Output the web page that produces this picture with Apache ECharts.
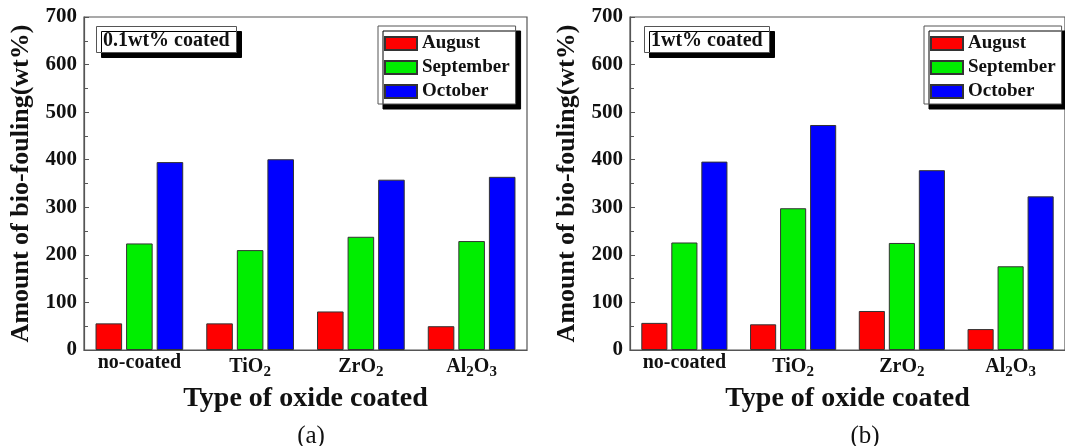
<!DOCTYPE html>
<html>
<head>
<meta charset="utf-8">
<script src="https://cdn.jsdelivr.net/npm/echarts@6/dist/echarts.min.js"></script>
<style>
  html, body { margin: 0; padding: 0; background: #fff; }
  #chart { width: 1065px; height: 446px; }
</style>
</head>
<body>
<div id="chart"></div>
<script>
// 数据
const categories = ['no-coated', 'TiO2', 'ZrO2', 'Al2O3']
const months = ['August', 'September', 'October']
const yTicks = [0, 100, 200, 300, 400, 500, 600, 700]

// (a) 0.1wt% coated
const augustA = [56, 56, 81, 50]
const septemberA = [224, 210, 238, 229]
const octoberA = [395, 401, 358, 364]

// (b) 1wt% coated
const augustB = [57, 54, 82, 44]
const septemberB = [226, 298, 225, 176]
const octoberB = [396, 473, 378, 323]

const colors = ['#ff0000', '#00ee00', '#0000ff']
const serif = '"Liberation Serif", "DejaVu Serif", serif'

const chart = echarts.init(document.getElementById('chart'))

// 下标显示 TiO2 -> TiO₂
function subLabel (v) {
  return v.replace(/(\d)/g, '{s|$1}')
}

function xAxisOf (idx) {
  return {
    type: 'category',
    gridIndex: idx,
    data: categories,
    axisTick: { show: false },
    axisLine: { lineStyle: { color: '#555', width: 1.2 } },
    axisLabel: {
      interval: 0,
      formatter: subLabel,
      color: '#111',
      fontFamily: serif,
      fontWeight: 'bold',
      fontSize: 20,
      margin: 3,
      rich: {
        s: {
          fontFamily: serif,
          fontWeight: 'bold',
          fontSize: 15,
          color: '#111',
          verticalAlign: 'bottom',
          padding: [12, 0, 0, 0]
        }
      }
    },
    name: 'Type of oxide coated',
    nameLocation: 'middle',
    nameGap: 27,
    nameTextStyle: { fontFamily: serif, fontWeight: 'bold', fontSize: 28, color: '#111' }
  }
}

function yAxisOf (idx) {
  return {
    type: 'value',
    gridIndex: idx,
    min: yTicks[0],
    max: yTicks[yTicks.length - 1],
    interval: 100,
    splitLine: { show: false },
    axisLine: { show: true, lineStyle: { color: '#555', width: 1.2 } },
    axisTick: { show: true, inside: true, length: 5, lineStyle: { color: '#555' } },
    minorTick: { show: true, splitNumber: 2, length: 4, lineStyle: { color: '#555' } },
    axisLabel: { color: '#111', fontFamily: serif, fontWeight: 'bold', fontSize: 21, margin: 7 },
    name: 'Amount of bio-fouling(wt%)',
    nameLocation: 'middle',
    nameGap: 50,
    nameTextStyle: { fontFamily: serif, fontWeight: 'bold', fontSize: 26, color: '#111' }
  }
}

function barSeries (name, data, idx, color) {
  return {
    name: name,
    type: 'bar',
    xAxisIndex: idx,
    yAxisIndex: idx,
    data: data,
    barWidth: '24%',
    barGap: '15%',
    itemStyle: { color: color, borderColor: '#333', borderWidth: 1 }
  }
}

function legendOf (left) {
  return {
    orient: 'vertical',
    left: left,
    top: 26,
    data: months,
    icon: 'rect',
    itemWidth: 32,
    itemHeight: 13,
    itemGap: 5,
    padding: [8, 6, 3, 6],
    backgroundColor: '#fff',
    borderColor: '#555',
    borderWidth: 1,
    shadowColor: '#000',
    shadowBlur: 0,
    shadowOffsetX: 5,
    shadowOffsetY: 5,
    textStyle: { fontFamily: serif, fontWeight: 'bold', fontSize: 19, color: '#111' }
  }
}

function boxTitle (text, left) {
  return {
    text: text,
    left: left,
    top: 26,
    padding: [4, 7, 2, 7],
    backgroundColor: '#fff',
    borderColor: '#555',
    borderWidth: 1,
    shadowColor: '#000',
    shadowBlur: 0,
    shadowOffsetX: 5,
    shadowOffsetY: 5,
    textStyle: { fontFamily: serif, fontWeight: 'bold', fontSize: 20, lineHeight: 21, color: '#111' }
  }
}

function capTitle (text, left) {
  return {
    text: text,
    left: left,
    top: 419,
    textAlign: 'center',
    textStyle: { fontFamily: serif, fontWeight: 'normal', fontSize: 25, color: '#111' }
  }
}

chart.setOption({
  animation: false,
  title: [
    boxTitle('0.1wt% coated', 96),
    boxTitle('1wt% coated', 644),
    capTitle('(a)', 306),
    capTitle('(b)', 860)
  ],
  legend: [legendOf(378), legendOf(924)],
  grid: [
    { left: 84, top: 17, width: 443, height: 333, show: true, borderColor: '#555', borderWidth: 1.2, backgroundColor: 'transparent' },
    { left: 630, top: 17, width: 442, height: 333, show: true, borderColor: '#555', borderWidth: 1.2, backgroundColor: 'transparent' }
  ],
  xAxis: [xAxisOf(0), xAxisOf(1)],
  yAxis: [yAxisOf(0), yAxisOf(1)],
  series: [
    barSeries(months[0], augustA, 0, colors[0]),
    barSeries(months[1], septemberA, 0, colors[1]),
    barSeries(months[2], octoberA, 0, colors[2]),
    barSeries(months[0], augustB, 1, colors[0]),
    barSeries(months[1], septemberB, 1, colors[1]),
    barSeries(months[2], octoberB, 1, colors[2])
  ]
})
</script>
</body>
</html>
